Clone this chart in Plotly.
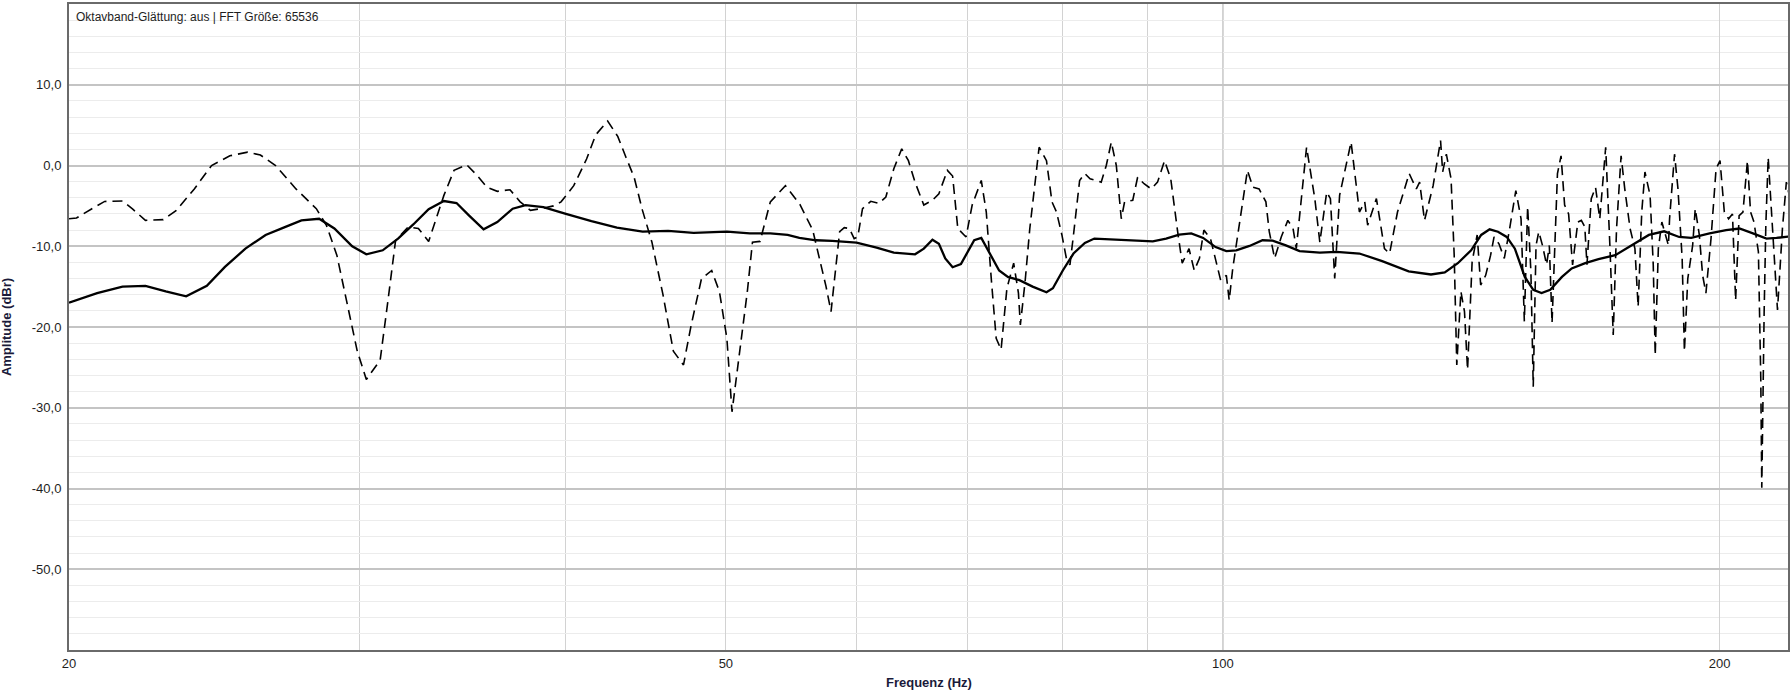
import math
import plotly.graph_objects as go

# ---- data ----
raw_freq = [20.0, 20.21, 20.65, 21.02, 21.55, 21.86, 22.25, 22.81, 23.22, 23.82, 24.40, 25.03, 25.66, 26.12,
            26.68, 27.45, 28.24, 28.64, 29.06, 29.48, 29.90, 30.28, 30.87, 31.20, 31.54, 32.10, 32.56, 33.03,
            33.38, 33.74, 34.22, 34.83, 35.33, 35.83, 36.35, 37.0, 37.53, 38.07, 38.62, 39.31, 39.73, 40.44,
            41.17, 41.7, 42.4, 43.0, 43.5, 44.0, 44.5, 45.1, 45.8, 46.47, 47.13, 47.64, 48.33, 49.02, 49.55,
            50.07, 50.43, 50.97, 51.52, 51.89, 52.44, 53.20, 54.33, 54.72, 55.43,
            56.44, 56.97, 57.5, 57.9, 58.3, 58.6, 58.98, 59.4, 59.8, 60.1, 60.5, 61.2, 61.9, 62.5, 63.2, 63.9,
            64.5, 65.1, 65.9, 66.7, 67.3, 68.1, 68.6, 69.1, 69.9, 70.5, 71.4, 71.9, 72.4, 72.9, 73.4, 74.0,
            74.7, 75.2, 75.4, 75.9, 76.4, 76.9, 77.4, 78.2, 78.8, 79.3, 79.9, 80.4, 80.8, 81.2, 81.9, 82.5,
            83.1, 83.8, 84.4, 85.0, 85.6, 86.2, 86.8, 87.2, 88.2, 88.8, 89.6, 90.5, 91.3, 92.2, 93.0, 93.9,
            94.5, 95.4, 96.1, 96.8, 97.4, 98.3, 99.0, 99.7, 100.5, 100.9, 101.4, 102.3, 103.5, 104.3, 105.2,
            106.2, 106.7, 107.5, 108.5, 109.5, 110.3, 110.8,
            112.4, 113.7, 114.5, 115.6, 116.2, 116.9, 117.7, 119.6, 121.0, 121.9, 122.4, 123.9, 125.3, 126.2,
            127.6, 129.7, 131.0, 131.6, 132.5, 134.1, 135.0, 135.5, 135.9, 136.6, 137.5, 138.1, 138.6, 139.4,
            140.1, 140.7, 141.6, 142.6, 143.3, 144.3, 145.3, 146.0, 147.0, 148.1, 149.1, 150.5, 151.6, 152.3,
            153.0, 153.7, 154.2, 154.8, 155.4, 156.2, 157.1, 157.7, 158.3, 158.8, 159.5, 160.3, 161.1, 162.0,
            162.9, 164.1, 164.9, 165.7, 166.2, 167.2, 168.2, 169.2, 170.0, 170.6, 171.6, 172.4, 173.2, 174.3,
            175.2, 176.5, 177.7, 178.5, 179.4, 180.2, 181.5, 182.3, 182.8, 183.6, 184.5, 185.4, 186.2, 186.5,
            187.8, 188.7, 189.8, 190.4, 191.3, 192.6, 193.3, 194.4, 195.3, 196.2, 197.6, 199.0, 200.1, 201.3,
            202.5, 203.6, 204.5, 205.5, 206.6, 207.9, 208.8, 209.8, 211.1, 211.8, 212.1, 212.8, 213.3, 214.0,
            215.5, 216.8, 218.3, 219.5, 220.3]
raw_db = [-6.6, -6.5, -5.35, -4.45, -4.4, -5.4, -6.8, -6.7, -5.6, -2.9, 0.0, 1.2, 1.65, 1.3,
          0.0, -2.9, -5.35, -7.4, -11.1, -16.9, -23.0, -26.5, -24.1, -16.9, -9.3, -7.6, -7.8, -9.4,
          -6.6, -3.7, -0.6, 0.1, -1.2, -2.7, -3.2, -3.0, -4.5, -5.55, -5.35, -5.0, -4.5, -2.5,
          0.8, 3.8, 5.5, 3.6, 1.0, -1.5, -5.5, -9.5, -16.0, -23.0, -24.7, -19.75, -14.0, -13.0, -15.6,
          -21.4, -30.5, -23.0, -15.6, -9.5, -9.4, -4.5, -2.5, -3.3, -4.8,
          -8.0, -11.5, -15.0, -18.1, -11.9, -8.2, -7.7, -7.8, -9.05, -8.85, -5.35, -4.44, -4.7, -3.9, -0.4, 2.06,
          0.6, -2.06, -4.9, -4.3, -3.5, -0.6, -1.3, -7.8, -8.85, -4.9, -1.85, -5.76, -14.0, -21.4, -22.8, -15.2,
          -12.1, -15.8, -19.75, -14.4, -7.8, -2.5, 2.26, 0.6, -4.5, -5.76, -8.6, -11.5, -12.3, -8.6, -1.85, -1.0,
          -1.65, -1.85, -2.06, 0.0, 2.9, 0.0, -6.6, -4.5, -4.3, -1.45, -2.26, -2.9, -2.06, 0.6, -1.65, -8.2,
          -12.1, -10.3, -13.0, -11.5, -8.0, -9.05, -11.5, -14.2, -13.6, -16.7, -12.75, -7.4, -0.6, -2.7, -2.9,
          -4.5, -8.2, -11.5, -8.85, -6.8, -7.8, -10.3,
          2.26, -4.1, -9.5, -3.3, -4.1, -14.0, -3.7, 2.9, -5.76, -4.5, -7.4, -4.1, -10.3, -10.9,
          -5.76, -1.0, -2.9, -2.06, -6.8, -2.5, 1.2, 3.1, -0.8, 1.4, -1.65, -11.1, -24.7, -15.6,
          -18.1, -25.3, -11.9, -8.6, -14.8, -13.6, -11.1, -8.85, -9.7, -11.5, -8.2, -3.1, -6.6, -19.3,
          -5.1, -13.2, -27.4, -9.9, -8.2, -9.9, -12.3, -9.9, -19.5, -12.3, -1.0, 1.2, -4.9, -6.0,
          -12.3, -7.0, -6.8, -7.6, -12.3, -4.1, -2.7, -6.6, -0.8, 2.26, -9.9, -21.0, -7.8, 1.2,
          -2.9, -7.8, -10.3, -17.5, -5.76, -0.8, -3.7, -12.3, -23.5, -10.3, -7.0, -8.6, -9.9, -6.6,
          1.4, -2.9, -11.5, -23.0, -14.0, -9.9, -5.35, -8.6, -13.6, -15.8, -9.05, -0.4, 0.6, -5.76,
          -6.6, -6.0, -16.7, -6.2, -5.76, 0.6, -5.76, -7.0, -10.7, -26.3, -39.9, -18.1, -7.4, 1.0,
          -9.9, -17.9, -7.8, -2.06, -3.5]

smooth_freq = [20.0, 20.8, 21.55, 22.25, 22.89, 23.55, 24.24, 24.86, 25.58, 26.31, 26.98, 27.66, 28.35, 28.96,
               29.69, 30.28, 30.98, 31.65, 32.33, 33.03, 33.74, 34.34, 34.95, 35.66, 36.35, 37.14, 37.81, 38.76,
               40.0, 41.45, 42.95, 44.52, 46.13, 47.8, 50.07, 51.7, 53.2, 54.5,
               55.4, 56.7, 58.0, 60.0, 61.7, 63.2, 65.1, 65.9, 66.7, 67.3, 67.9, 68.6, 69.4, 70.7, 71.4, 72.2,
               73.2, 74.1, 75.3, 76.7, 78.2, 78.9, 80.0, 81.2, 82.5, 83.6, 86.0, 88.2, 90.7, 92.4, 94.1, 95.7,
               97.3, 99.0, 100.5, 101.9, 103.8, 105.7, 107.2, 109.2, 111.3,
               114.5, 117.2, 121.0, 124.9, 129.6, 133.7, 136.3, 138.8, 141.4, 143.4, 145.1, 146.8, 148.6, 150.3,
               152.4, 154.2, 156.0, 157.9, 160.5, 162.7, 165.8, 168.9, 172.9, 177.0, 181.2, 185.1, 189.0, 192.2,
               197.2, 201.8, 205.6, 209.5, 213.5, 216.5, 220.1]
smooth_db = [-17.0, -15.8, -15.0, -14.9, -15.6, -16.2, -14.9, -12.55, -10.3, -8.6, -7.7, -6.8, -6.6, -7.8,
             -10.0, -11.0, -10.5, -9.05, -7.3, -5.4, -4.4, -4.65, -6.2, -7.9, -7.0, -5.35, -4.9, -5.15,
             -6.0, -6.9, -7.7, -8.2, -8.1, -8.35, -8.2, -8.4, -8.4, -8.6,
             -8.97, -9.26, -9.34, -9.55, -10.16, -10.8, -11.0, -10.3, -9.2, -9.7, -11.5, -12.6, -12.2, -9.26, -8.97, -10.7,
             -13.0, -13.8, -14.2, -15.0, -15.7, -15.2, -13.0, -10.9, -9.6, -9.05, -9.2, -9.26, -9.4, -9.05, -8.56, -8.4,
             -8.97, -10.1, -10.6, -10.5, -9.96, -9.26, -9.3, -9.9, -10.6,
             -10.8, -10.7, -10.9, -11.85, -13.1, -13.5, -13.25, -12.1, -10.5, -8.6, -7.9, -8.2, -8.85, -10.3,
             -13.8, -15.4, -15.8, -15.4, -13.8, -12.75, -12.1, -11.6, -11.1, -9.8, -8.6, -8.15, -8.85, -8.97,
             -8.4, -8.0, -7.8, -8.4, -9.05, -8.97, -8.8]

x_tick_vals = [20, 50, 100, 200]
x_tick_text = ["20", "50", "100", "200"]
x_minor_vals = [30, 40, 60, 70, 80, 90]
y_tick_vals = [10, 0, -10, -20, -30, -40, -50]
y_tick_text = ["10,0", "0,0", "-10,0", "-20,0", "-30,0", "-40,0", "-50,0"]
x_range = [20, 220]
y_range = [-60, 20]

info_text = "Oktavband-Glättung: aus | FFT Größe: 65536"
x_title = "Frequenz (Hz)"
y_title = "Amplitude (dBr)"

FONT = "Liberation Sans, Arial, sans-serif"

fig = go.Figure()
fig.add_trace(go.Scatter(x=raw_freq, y=raw_db, mode="lines",
                         line=dict(color="#000000", width=1.6, dash="10px,6px"),
                         hoverinfo="skip", showlegend=False))
fig.add_trace(go.Scatter(x=smooth_freq, y=smooth_db, mode="lines",
                         line=dict(color="#000000", width=2.3),
                         hoverinfo="skip", showlegend=False))

fig.add_shape(type="line", xref="x", yref="paper", x0=100, x1=100, y0=0, y1=1,
              line=dict(color="#b4b4b4", width=1.5), layer="below")

fig.update_layout(
    width=1792, height=690,
    margin=dict(l=69, r=3, t=2, b=40),
    paper_bgcolor="#ffffff", plot_bgcolor="#ffffff",
    font=dict(family=FONT, size=13, color="#1e1e1e"),
    showlegend=False,
    xaxis=dict(type="log", range=[math.log10(x_range[0]), math.log10(x_range[1])],
               tickmode="array", tickvals=x_tick_vals, ticktext=x_tick_text,
               showgrid=True, gridcolor="#d2d2d2", gridwidth=1,
               minor=dict(tickvals=x_minor_vals, showgrid=True, gridcolor="#d2d2d2", gridwidth=1, ticks=""),
               showline=True, linecolor="#6a6a6a", linewidth=2, mirror=True,
               ticks="", zeroline=False, tickfont=dict(size=13, color="#1e1e1e")),
    yaxis=dict(range=y_range, tickmode="array", tickvals=y_tick_vals, ticktext=y_tick_text,
               showgrid=True, gridcolor="#c4c4c4", gridwidth=1.6,
               minor=dict(tickmode="linear", tick0=0, dtick=2, showgrid=True, gridcolor="#ececec", gridwidth=1, ticks=""),
               showline=True, linecolor="#6a6a6a", linewidth=2, mirror=True,
               ticks="", zeroline=False, tickfont=dict(size=13, color="#1e1e1e"),
               ticklabelstandoff=3),
    annotations=[
        dict(text=info_text, xref="paper", yref="paper", x=0.003, y=0.98, xanchor="left", yanchor="middle",
             showarrow=False, font=dict(family=FONT, size=12, color="#1e1e1e")),
        dict(text="<b>" + x_title + "</b>", xref="paper", yref="paper", x=0.5, y=-0.051,
             xanchor="center", yanchor="middle", showarrow=False,
             font=dict(family=FONT, size=13, color="#1a1a3a")),
        dict(text="<b>" + y_title + "</b>", xref="paper", yref="paper", x=-0.0366, y=0.5,
             xanchor="center", yanchor="middle", textangle=-90, showarrow=False,
             font=dict(family=FONT, size=13, color="#1a1a3a")),
    ],
)

fig.write_html("out.html", config={"displayModeBar": False},
               post_script="document.body.style.margin='0';document.body.style.overflow='hidden';")
